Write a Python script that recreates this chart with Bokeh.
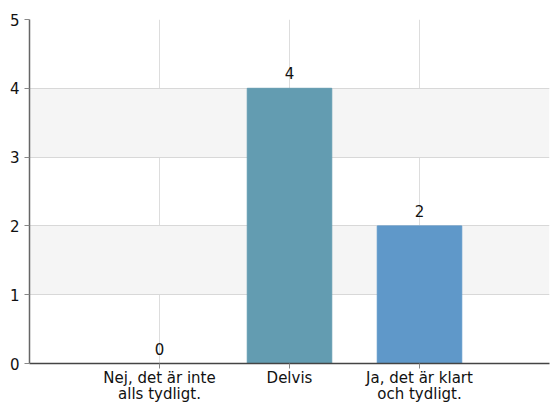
from bokeh.plotting import figure
from bokeh.models import Range1d, FixedTicker, ColumnDataSource
from bokeh.embed import file_html
from bokeh.resources import INLINE
from bokeh.core.properties import value

categories = ["Nej, det är inte\nalls tydligt.", "Delvis", "Ja, det är klart\noch tydligt."]
counts = [0, 4, 2]
bar_colors = ["#5f98c9", "#639cb1", "#5f98c9"]
y_ticks = [0, 1, 2, 3, 4, 5]

xs = list(range(len(categories)))
src = ColumnDataSource(dict(x=xs, top=counts, color=bar_colors, label=[str(c) for c in counts]))

font = "DejaVu Sans"

p = figure(width=550, height=405, output_backend="svg", toolbar_location=None,
           x_range=Range1d(-1, 3), y_range=Range1d(0, 5),
           min_border_left=29, min_border_top=19, min_border_bottom=38, min_border_right=1)
p.outline_line_color = None
p.background_fill_color = "white"

p.vbar(x="x", top="top", width=0.65, color="color", source=src)
p.text(x="x", y="top", text="label", source=src, text_align="center", text_baseline="bottom",
       y_offset=-9, text_font=value(font), text_font_size="15px", text_color="#111111")

p.xaxis.ticker = FixedTicker(ticks=xs)
p.xaxis.major_label_overrides = {i: c for i, c in zip(xs, categories)}
p.xaxis.major_label_text_font = font
p.xaxis.major_label_text_font_size = "15px"
p.xaxis.major_label_text_line_height = 0.9
p.xaxis.major_label_text_color = "#111111"
p.xaxis.axis_line_color = "#444444"
p.xaxis.axis_line_width = 1.5
p.xaxis.major_tick_line_color = "#888888"
p.xaxis.major_tick_out = 5
p.xaxis.major_tick_in = 0
p.xaxis.minor_tick_line_color = None
p.xaxis.major_label_standoff = 0

p.yaxis.ticker = FixedTicker(ticks=y_ticks)
p.yaxis.major_label_text_font = font
p.yaxis.major_label_text_font_size = "15px"
p.yaxis.major_label_text_color = "#111111"
p.yaxis.axis_line_color = "#666666"
p.yaxis.axis_line_width = 1.5
p.yaxis.major_tick_line_color = "#888888"
p.yaxis.major_tick_out = 5
p.yaxis.major_tick_in = 0
p.yaxis.minor_tick_line_color = None
p.yaxis.major_label_standoff = 5

p.xgrid.ticker = FixedTicker(ticks=xs)
p.xgrid.grid_line_color = "#dddddd"
p.ygrid.ticker = FixedTicker(ticks=y_ticks)
p.ygrid.grid_line_color = "#d8d8d8"
p.ygrid.band_fill_color = "#f5f5f5"
p.ygrid.band_fill_alpha = 1.0

open("out.html", "w").write(file_html(p, INLINE))
